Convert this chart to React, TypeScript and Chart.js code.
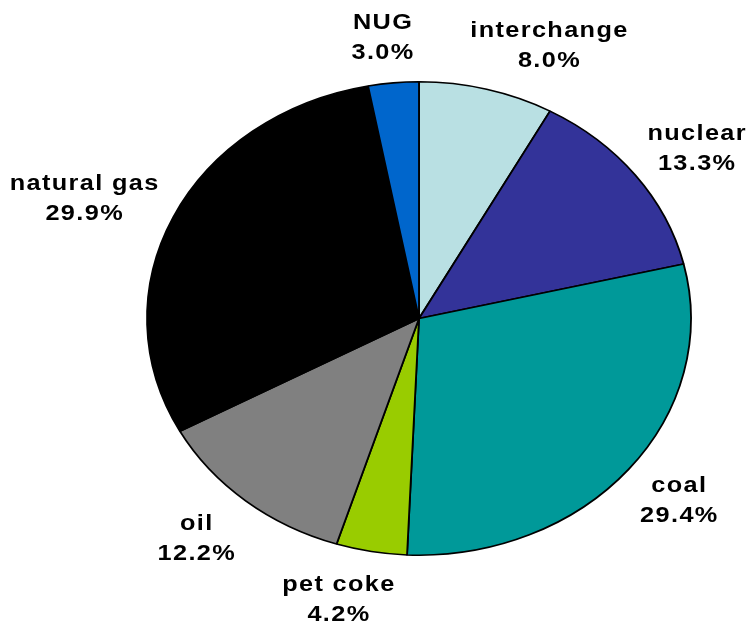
import React, { useEffect, useRef } from "react";
import { Chart, registerables } from "chart.js";

Chart.register(...registerables);

const categories = ["interchange", "nuclear", "coal", "pet coke", "oil", "natural gas", "NUG"];
const shares = [8.0, 13.3, 29.4, 4.2, 12.2, 29.9, 3.0];
const sliceColors = ["#B9E0E3", "#333399", "#009999", "#99CC00", "#808080", "#000000", "#0066CC"];

const SX = 1.149; // horizontal stretch of the (elliptical) pie
const FONT = "bold 22px Arial, 'Liberation Sans', sans-serif";
const GAP_X = 15;
const OFF_Y = 47;
const LINE_H = 30;

const stretchPlugin = {
  id: "stretch",
  beforeDatasetsDraw(chart: any) {
    const arc = chart.getDatasetMeta(0).data[0];
    if (!arc) return;
    const ctx = chart.ctx;
    ctx.save();
    ctx.translate(arc.x, 0);
    ctx.scale(SX, 1);
    ctx.translate(-arc.x, 0);
  },
  afterDatasetsDraw(chart: any) {
    chart.ctx.restore();
  },
};

const labelPlugin = {
  id: "sliceLabels",
  afterDraw(chart: any) {
    const ctx = chart.ctx;
    const meta = chart.getDatasetMeta(0);
    const values = chart.data.datasets[0].data as number[];
    const labels = chart.data.labels as string[];
    ctx.save();
    ctx.font = FONT;
    (ctx as any).letterSpacing = "1.2px";
    ctx.fillStyle = "#000000";
    ctx.textAlign = "center";
    ctx.textBaseline = "alphabetic";
    meta.data.forEach((arc: any, i: number) => {
      const mid = (arc.startAngle + arc.endAngle) / 2;
      const s = Math.cos(mid);
      const c = Math.sin(mid);
      const r = arc.outerRadius;
      const ex = arc.x + SX * r * s;
      const ey = arc.y + r * c;
      const lines = [labels[i], values[i].toFixed(1) + "%"];
      const w = Math.max(...lines.map((l) => ctx.measureText(l).width)) * SX;
      const halfW = w / 2;
      const fx = Math.sign(s) * Math.min(1, 3 * Math.abs(s));
      const lx = ex + GAP_X * s + halfW * fx;
      const ly = ey + OFF_Y * c;
      const base1 = ly - 23 + 16;
      lines.forEach((line, k) => {
        ctx.save();
        ctx.translate(lx, base1 + k * LINE_H);
        ctx.scale(SX, 1);
        ctx.fillText(line, 0, 0);
        ctx.restore();
      });
    });
    ctx.restore();
  },
};

export default function App() {
  const ref = useRef<HTMLCanvasElement | null>(null);
  useEffect(() => {
    if (!ref.current) return;
    const chart = new Chart(ref.current, {
      type: "pie",
      data: {
        labels: categories,
        datasets: [
          {
            data: shares,
            backgroundColor: sliceColors,
            borderColor: "#000000",
            borderWidth: 1.6,
          },
        ],
      },
      options: {
        animation: false,
        responsive: true,
        maintainAspectRatio: false,
        layout: { padding: { top: 81, bottom: 70, left: 181.5, right: 97.5 } },
        plugins: {
          legend: { display: false },
          tooltip: { enabled: false },
        },
      },
      plugins: [stretchPlugin, labelPlugin],
    });
    return () => chart.destroy();
  }, []);
  return (
    <div style={{ position: "fixed", left: 0, top: 0, width: 754, height: 626, background: "#ffffff" }}>
      <canvas ref={ref} />
    </div>
  );
}
